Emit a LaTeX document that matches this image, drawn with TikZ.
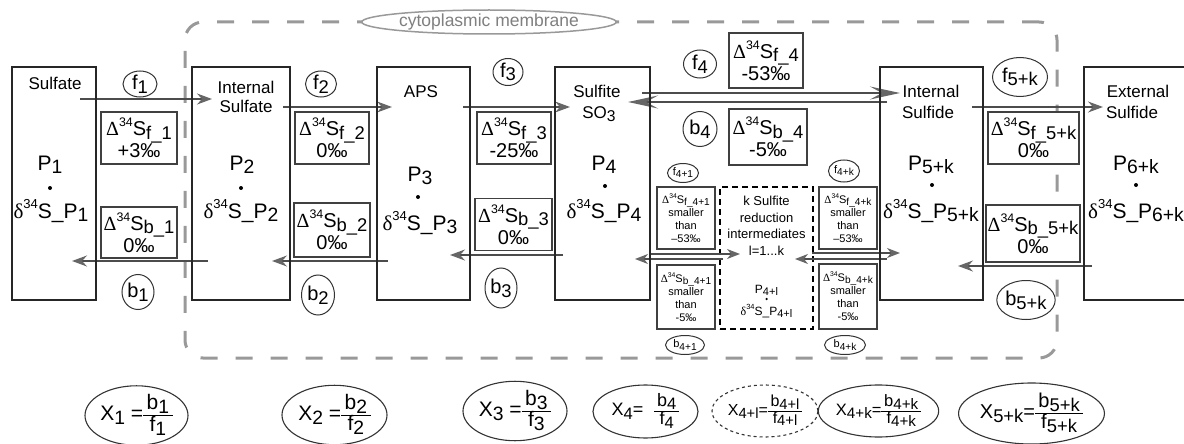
\documentclass[tikz,border=0pt]{standalone}
\usepackage{fontspec}
\usepackage{graphicx}
\setmainfont{Liberation Sans}
\newfontfamily\grf{Liberation Serif}
\usetikzlibrary{arrows.meta,shapes.geometric}
\newcommand\Dl{{\grf Δ}}
\newcommand\dl{{\grf δ}}
\newcommand\dn[1]{\raisebox{-0.35ex}{\scalebox{0.92}{#1}}}
\newcommand\su[1]{\raisebox{0.85ex}{\scalebox{0.62}{#1}}}
\newcommand\fs[1]{\fontsize{#1}{#1}\selectfont}
\newcommand\fr[2]{{\renewcommand\arraystretch{0.85}\setlength\arrayrulewidth{0.9pt}\begin{tabular}{@{\,}c@{\,}}#1\\\hline#2\end{tabular}}}
\begin{document}
\begin{tikzpicture}[x=1pt,y=-1pt,
  mbox/.style={draw=black!85,line width=1.3pt,inner sep=0pt},
  dbox/.style={draw=black!75,fill=white,line width=1.2pt,inner sep=0pt,align=center,font=\fontsize{20}{22}\selectfont},
  sbox/.style={draw=black!75,fill=white,line width=1.1pt,inner sep=0pt,align=center,font=\fontsize{11}{13}\selectfont},
  lab/.style={ellipse,draw=black!80,fill=white,line width=1pt,inner sep=0pt,font=\fs{20}},
  slab/.style={ellipse,draw=black!80,fill=white,line width=1pt,inner sep=0pt,font=\fs{11}},
  xlab/.style={ellipse,draw=black!80,line width=1.1pt,inner sep=0pt},
  mt/.style={font=\fs{17},inner sep=0pt,anchor=base},
  pt/.style={font=\fs{21},inner sep=0pt,anchor=base},
  pdot/.style={circle,fill=black,inner sep=0pt,minimum size=4pt},
  arr/.style={draw=black!70,line width=1.5pt,-{Stealth[length=15pt,width=11pt,inset=5pt,color=black!60]}},
  bigarr/.style={draw=black!70,line width=1.5pt,-{Stealth[length=30pt,width=13pt,inset=12pt,color=black!60]}},
  smarr/.style={draw=black!70,line width=1.4pt,-{Stealth[length=13pt,width=10pt,inset=4pt,color=black!60]}},
  mem/.style={draw=black!40,line width=3pt,dash pattern=on 17pt off 18pt,rounded corners=18pt,inner sep=0pt}
]
\useasboundingbox (0,0) rectangle (1184,444);
% membrane
\node[mem,minimum width=872pt,minimum height=336pt] (memb) at (621,190) {};
\node[ellipse,draw=black!40,fill=white,line width=1.5pt,inner sep=0pt,minimum width=242pt,minimum height=24pt,text=black!50,font=\fs{17.5}] (membl) at (489,22) {cytoplasmic membrane};

% Delta boxes
\node[dbox,minimum width=76pt,minimum height=52pt] (Df1) at (139,138) {\Dl\su{34}S\dn{f\_1}\\+3‰};
\node[dbox,minimum width=74pt,minimum height=52pt] (Df2) at (332,138) {\Dl\su{34}S\dn{f\_2}\\0‰};
\node[dbox,minimum width=74pt,minimum height=52pt] (Df3) at (514,138) {\Dl\su{34}S\dn{f\_3}\\-25‰};
\node[dbox,minimum width=74pt,minimum height=55pt] (Df4) at (766,60.5) {\Dl\su{34}S\dn{f\_4}\\-53‰};
\node[dbox,minimum width=78pt,minimum height=56pt] (Db4) at (768,137) {\Dl\su{34}S\dn{b\_4}\\-5‰};
\node[dbox,minimum width=91pt,minimum height=52pt] (Df5) at (1033.5,138) {\Dl\su{34}S\dn{f\_5+k}\\0‰};
\node[dbox,minimum width=76pt,minimum height=51pt] (Db1) at (139,232.5) {\Dl\su{34}S\dn{b\_1}\\0‰};
\node[dbox,minimum width=76pt,minimum height=54pt] (Db2) at (332,230) {\Dl\su{34}S\dn{b\_2}\\0‰};
\node[dbox,minimum width=77pt,minimum height=52pt] (Db3) at (513.5,224.5) {\Dl\su{34}S\dn{b\_3}\\0‰};
\node[dbox,minimum width=94pt,minimum height=57pt] (Db5) at (1033,233.5) {\Dl\su{34}S\dn{b\_5+k}\\0‰};

% small boxes
\node[sbox,minimum width=58pt,minimum height=62pt] (Df41) at (686,218) {\Dl\su{34}S\dn{f\_4+1}\\smaller\\than\\–53‰};
\node[sbox,minimum width=58pt,minimum height=64pt] (Db41) at (686,297) {\Dl\su{34}S\dn{b\_4+1}\\smaller\\than\\-5‰};
\node[sbox,minimum width=58pt,minimum height=62pt] (Df4k) at (848,218) {\Dl\su{34}S\dn{f\_4+k}\\smaller\\than\\–53‰};
\node[sbox,minimum width=58pt,minimum height=65pt] (Db4k) at (848,296.5) {\Dl\su{34}S\dn{b\_4+k}\\smaller\\than\\-5‰};
\node[draw=black,line width=1.3pt,dash pattern=on 6pt off 4pt,minimum width=93pt,minimum height=142pt,inner sep=0pt] (Dk) at (766.5,258) {};
\node[align=center,inner sep=0pt,font=\fontsize{13}{16.5}\selectfont] (Dkt) at (766.5,226) {k Sulfite\\reduction\\intermediates\\l=1...k};
\node[inner sep=0pt,anchor=base,font=\fs{12}] (Dkp) at (766.5,293) {P\dn{4+l}};
\node[pdot,minimum size=2.5pt] (Dkd) at (766.5,299) {};
\node[inner sep=0pt,anchor=base,font=\fs{12}] (Dkq) at (766.5,315) {\dl\su{34}S\_P\dn{4+l}};

% coordinates for connectors
\coordinate (a1s) at (80,99);   \coordinate (a1e) at (212,99);
\coordinate (a2s) at (283,107); \coordinate (a2e) at (392,107);
\coordinate (a3s) at (463,107); \coordinate (a3e) at (570,107);
\coordinate (a4s) at (642,93);  \coordinate (a4e) at (900,93);
\coordinate (r4s) at (887,102); \coordinate (r4e) at (628,102);
\coordinate (a5s) at (972,107); \coordinate (a5e) at (1103,107);
\coordinate (r1s) at (208,261); \coordinate (r1e) at (72,261);
\coordinate (r2s) at (388,261); \coordinate (r2e) at (272,261);
\coordinate (r3s) at (563,255); \coordinate (r3e) at (450,255);
\coordinate (r5s) at (1092,266); \coordinate (r5e) at (958,266);
\coordinate (m1s) at (650,254); \coordinate (m1e) at (740,254);
\coordinate (m2s) at (723,259); \coordinate (m2e) at (635,259);
\coordinate (m3s) at (812,253); \coordinate (m3e) at (900,253);
\coordinate (m4s) at (887,259); \coordinate (m4e) at (795,259);

\draw[arr] (a1s) -- (a1e);
\draw[arr] (a2s) -- (a2e);
\draw[arr] (a3s) -- (a3e);
\draw[bigarr] (a4s) -- (a4e);
\draw[bigarr] (r4s) -- (r4e);
\draw[arr] (a5s) -- (a5e);
\draw[arr] (r1s) -- (r1e);
\draw[arr] (r2s) -- (r2e);
\draw[arr] (r3s) -- (r3e);
\draw[arr] (r5s) -- (r5e);
\draw[smarr] (m1s) -- (m1e);
\draw[smarr] (m2s) -- (m2e);
\draw[smarr] (m3s) -- (m3e);
\draw[smarr] (m4s) -- (m4e);

% main boxes
\node[mbox,minimum width=84pt,minimum height=233pt] (B1) at (54,183.5) {};
\node[mbox,minimum width=98pt,minimum height=233pt] (B2) at (241,183.5) {};
\node[mbox,minimum width=93pt,minimum height=233pt] (B3) at (423.5,183.5) {};
\node[mbox,minimum width=95pt,minimum height=233pt] (B4) at (602.5,183.5) {};
\node[mbox,minimum width=103pt,minimum height=233pt] (B5) at (931.5,183.5) {};
\node[mbox,minimum width=106pt,minimum height=233pt] (B6) at (1137,183.5) {};

% box texts
\node[mt] (t1) at (55,90) {Sulfate};
\node[mt] (t2a) at (246,93) {Internal};
\node[mt] (t2b) at (246,113) {Sulfate};
\node[mt] (t3) at (421,97) {APS};
\node[mt] (t4a) at (597,98) {Sulfite};
\node[mt] (t4b) at (599,118) {SO\dn3};
\node[mt] (t5a) at (931,98) {Internal};
\node[mt] (t5b) at (928,118) {Sulfide};
\node[mt] (t6a) at (1138,98) {External};
\node[mt] (t6b) at (1132,118) {Sulfide};

\node[pt] (p1) at (50,170) {P\dn1};
\node[pdot] (d1) at (50,188) {};
\node[pt] (q1) at (51,218) {\dl\su{34}S\_P\dn1};
\node[pt] (p2) at (242,170) {P\dn2};
\node[pdot] (d2) at (241,188) {};
\node[pt] (q2) at (241,218) {\dl\su{34}S\_P\dn2};
\node[pt] (p3) at (420,181) {P\dn3};
\node[pdot] (d3) at (418,197) {};
\node[pt] (q3) at (420,230) {\dl\su{34}S\_P\dn3};
\node[pt] (p4) at (604,170) {P\dn4};
\node[pdot] (d4) at (605,186) {};
\node[pt] (q4) at (604,218) {\dl\su{34}S\_P\dn4};
\node[pt] (p5) at (931,170) {P\dn{5+k}};
\node[pdot] (d5) at (932,185) {};
\node[pt] (q5) at (931,218) {\dl\su{34}S\_P\dn{5+k}};
\node[pt] (p6) at (1136,170) {P\dn{6+k}};
\node[pdot] (d6) at (1136,185) {};
\node[pt] (q6) at (1136,218) {\dl\su{34}S\_P\dn{6+k}};

% rate labels
\node[lab,minimum width=34pt,minimum height=26pt] (lf1) at (140,84) {f\dn1};
\node[lab,minimum width=31pt,minimum height=26pt] (lf2) at (321,84) {f\dn2};
\node[lab,minimum width=30pt,minimum height=27pt] (lf3) at (508,72) {f\dn3};
\node[lab,minimum width=33pt,minimum height=28pt] (lf4) at (700,64) {f\dn4};
\node[lab,minimum width=34pt,minimum height=35pt] (lb4) at (700,129) {b\dn4};
\node[lab,minimum width=55pt,minimum height=39pt] (lf5) at (1020,77) {f\dn{5+k}};
\node[lab,minimum width=32pt,minimum height=35pt] (lb1) at (138,292) {b\dn1};
\node[lab,minimum width=33pt,minimum height=40pt] (lb2) at (318,295) {b\dn2};
\node[lab,minimum width=32pt,minimum height=40pt] (lb3) at (501,288) {b\dn3};
\node[lab,minimum width=55pt,minimum height=39pt] (lb5) at (1026,300) {b\dn{5+k}};
\node[slab,minimum width=31pt,minimum height=19pt] (lf41) at (683,173) {f\dn{4+1}};
\node[slab,minimum width=31pt,minimum height=22pt] (lf4k) at (844,171) {f\dn{4+k}};
\node[slab,minimum width=39pt,minimum height=19pt] (lb41) at (685,345) {b\dn{4+1}};
\node[slab,minimum width=41pt,minimum height=19pt] (lb4k) at (845,345) {b\dn{4+k}};

% X ratios
\node[xlab,minimum width=103pt,minimum height=55pt,font=\fs{21}] (X1) at (136.5,415.5) {X\dn1 =\fr{b\dn1}{f\dn1}};
\node[xlab,minimum width=105pt,minimum height=56pt,font=\fs{21}] (X2) at (334.5,415) {X\dn2 =\fr{b\dn2}{f\dn2}};
\node[xlab,minimum width=104pt,minimum height=58pt,font=\fs{21}] (X3) at (515,411) {X\dn3 =\fr{b\dn3}{f\dn3}};
\node[xlab,minimum width=105pt,minimum height=53pt,font=\fs{18}] (X4) at (645.5,411.5) {X\dn4=\hspace{0.6em}\fr{b\dn4}{f\dn4}};
\node[xlab,dashed,minimum width=106pt,minimum height=52pt,font=\fs{16}] (X4l) at (765,411) {X\dn{4+l}=\fr{b\dn{4+l}}{f\dn{4+l}}};
\node[xlab,minimum width=107pt,minimum height=52pt,font=\fs{16.5}] (X4k) at (878.5,411) {X\dn{4+k}=\fr{b\dn{4+k}}{f\dn{4+k}}};
\node[xlab,minimum width=117pt,minimum height=61pt,font=\fs{20}] (X5k) at (1031.5,413.5) {X\dn{5+k}=\fr{b\dn{5+k}}{f\dn{5+k}}};
\end{tikzpicture}
\end{document}
